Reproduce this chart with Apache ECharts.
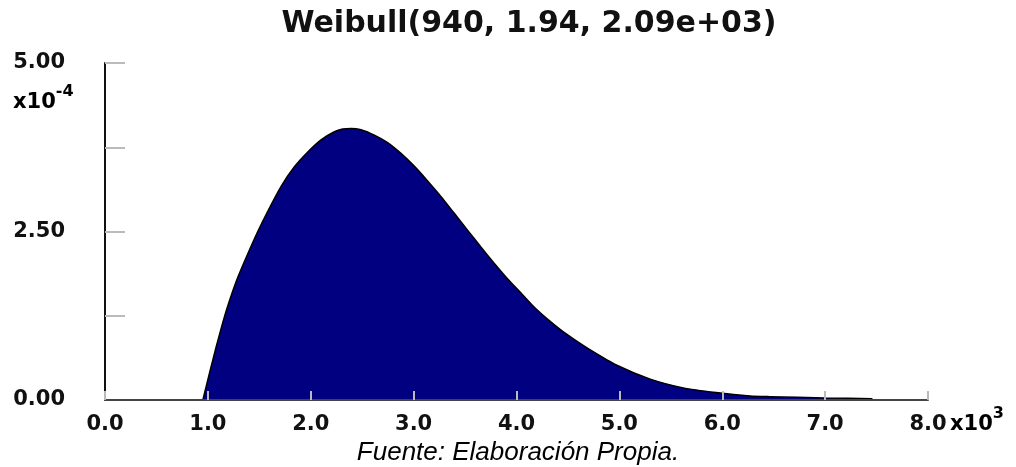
<!DOCTYPE html>
<html>
<head>
<meta charset="utf-8">
<script src="https://cdn.jsdelivr.net/npm/echarts@6/dist/echarts.min.js"></script>
<style>
  html, body { margin: 0; padding: 0; background: #fff; }
  #chart { width: 1016px; height: 467px; }
</style>
</head>
<body>
<div id="chart"></div>
<script>
// valores (x en unidades, y en unidades de 1e-4)
const xValues = [951, 1016, 1081, 1162, 1227, 1291, 1388, 1485, 1582, 1712, 1841, 1971, 2100, 2230, 2310, 2391, 2489, 2618, 2747, 2877, 3006, 3136, 3265, 3395, 3524, 3654, 3783, 3912, 4042, 4171, 4301, 4430, 4560, 4721, 4970, 5300, 5620, 5940, 6270, 6460, 7000, 7460];
const yValues = [0, 0.40, 0.79, 1.24, 1.55, 1.82, 2.17, 2.50, 2.80, 3.17, 3.46, 3.68, 3.86, 3.98, 4.02, 4.03, 4.01, 3.93, 3.82, 3.66, 3.47, 3.25, 3.02, 2.77, 2.52, 2.27, 2.03, 1.80, 1.59, 1.38, 1.20, 1.04, 0.90, 0.74, 0.52, 0.31, 0.18, 0.11, 0.06, 0.05, 0.03, 0.02];
const yLabels = [0, 2.5, 5];

const labelFont = 'DejaVu Sans';
const textColor = '#111';

let chartConfig = {
  animation: false,
  title: [
    {
      text: 'Weibull(940, 1.94, 2.09e+03)',
      left: 524,
      top: 4,
      textAlign: 'center',
      textStyle: { fontFamily: labelFont, fontWeight: 'bold', fontSize: 30, color: textColor }
    },
    {
      text: 'Fuente: Elaboración Propia.',
      left: 513,
      top: 435,
      textAlign: 'center',
      textStyle: { fontFamily: 'Liberation Sans', fontStyle: 'italic', fontWeight: 'normal', fontSize: 26, color: '#000' }
    }
  ],
  grid: {
    left: 105,
    right: 88,
    top: 63,
    bottom: 67
  },
  xAxis: {
    type: 'value',
    min: 0,
    max: 8000,
    interval: 1000,
    z: 5,
    axisLine: { lineStyle: { color: '#444', width: 2 } },
    axisTick: { inside: true, length: 9, lineStyle: { color: '#bbb', width: 2 } },
    splitLine: { show: false },
    axisLabel: {
      margin: 14,
      fontFamily: labelFont,
      fontWeight: 'bold',
      fontSize: 21,
      color: textColor,
      formatter: v => (v / 1000).toFixed(1)
    }
  },
  yAxis: {
    type: 'value',
    min: 0,
    max: 5,
    interval: 1.25,
    z: 4,
    axisLine: { show: true, lineStyle: { color: '#111', width: 2 } },
    axisTick: { show: true, inside: true, length: 20, lineStyle: { color: '#bbb', width: 2 } },
    splitLine: { show: false },
    axisLabel: {
      margin: 40,
      fontFamily: labelFont,
      fontWeight: 'bold',
      fontSize: 21,
      color: textColor,
      padding: [4, 0, 0, 0],
      formatter: v => (yLabels.indexOf(v) >= 0 ? v.toFixed(2) : '')
    }
  },
  graphic: [
    {
      type: 'text',
      left: 13,
      top: 84,
      style: {
        text: '{a|x10}{s|-4}',
        rich: {
          a: { fontFamily: labelFont, fontWeight: 'bold', fontSize: 21, color: textColor, verticalAlign: 'bottom', padding: [8, 0, 0, 0] },
          s: { fontFamily: labelFont, fontWeight: 'bold', fontSize: 16, color: textColor, verticalAlign: 'top' }
        }
      }
    },
    {
      type: 'text',
      left: 950,
      top: 406,
      style: {
        text: '{a|x10}{s|3}',
        rich: {
          a: { fontFamily: labelFont, fontWeight: 'bold', fontSize: 21, color: textColor, verticalAlign: 'bottom', padding: [8, 0, 0, 0] },
          s: { fontFamily: labelFont, fontWeight: 'bold', fontSize: 16, color: textColor, verticalAlign: 'top' }
        }
      }
    }
  ],
  series: [
    {
      type: 'line',
      data: xValues.map((x, i) => [x, yValues[i]]),
      showSymbol: false,
      smooth: 0.2,
      lineStyle: { color: '#000', width: 1.5 },
      areaStyle: { color: '#000080', opacity: 1 },
      z: 2
    }
  ]
};

let chart = echarts.init(document.getElementById('chart'));
chart.setOption(chartConfig);
window.addEventListener('resize', function () {
  chart.resize();
});
</script>
</body>
</html>
